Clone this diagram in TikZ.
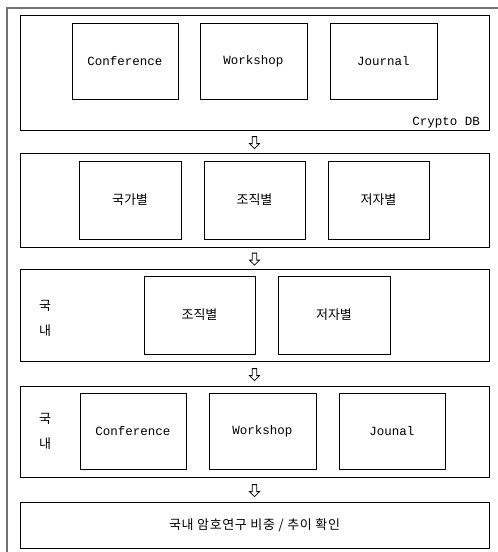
\documentclass[tikz,border=0pt]{standalone}
\usepackage{fontspec}
\setmonofont{Liberation Mono}
\newfontfamily\krfont{Noto Sans CJK KR}
\usetikzlibrary{shadows,calc,shapes.arrows}
\begin{document}
\begin{tikzpicture}[x=1pt,y=-1pt,
  box/.style={draw=black, line width=0.9pt, fill=white, inner sep=0pt,
    drop shadow={shadow xshift=1.2pt, shadow yshift=-1.2pt, fill=black!85, opacity=1}},
  panel/.style={box, minimum width=469pt},
  cell/.style={box},
  lat/.style={font=\ttfamily\fontsize{12.5}{14}\selectfont},
  kor/.style={font=\krfont\fontsize{13}{15}\selectfont},
  arr/.style={single arrow, draw=black, line width=0.8pt, fill=white,
    shape border rotate=270, minimum height=12pt, minimum width=10pt,
    single arrow head extend=2.5pt, single arrow head indent=0pt, inner sep=1.6pt},
  side/.style={font=\krfont\fontsize{13}{25}\selectfont, align=center, inner sep=0pt}
]
\useasboundingbox (0,0) rectangle (498,552);
\fill[white] (0,0) rectangle (498,552);
\draw[black!55, line width=1.6pt] (7,552) -- (7,8) -- (498,8);

% panels
\node[panel, minimum height=115pt] (b1) at (254.5,72.5) {};
\node[panel, minimum height=94pt]  (b2) at (254.5,200) {};
\node[panel, minimum height=92pt]  (b3) at (254.5,315) {};
\node[panel, minimum height=91pt]  (b4) at (254.5,431.5) {};
\node[panel, minimum height=46pt, kor] (b5) at (254.5,525) {\addfontfeature{LetterSpace=5}국내 암호연구 비중 / 추이 확인};

% row 1
\node[cell, lat, minimum width=106pt, minimum height=76pt] (c1) at (125,61) {Conference};
\node[cell, lat, minimum width=107pt, minimum height=76pt] (w1) at (253.5,61) {Workshop};
\node[cell, lat, minimum width=107pt, minimum height=76pt] (j1) at (383.5,61) {Journal};
\node[lat, anchor=east, inner sep=0pt] (cdb) at (480,123) {Crypto DB};

% row 2
\node[cell, kor, minimum width=102pt, minimum height=78pt] (n2) at (130,200) {국가별};
\node[cell, kor, minimum width=101pt, minimum height=78pt] (o2) at (254.5,200) {조직별};
\node[cell, kor, minimum width=101pt, minimum height=78pt] (a2) at (378.5,200) {저자별};

% row 3
\node[side] (d3) at (45,318) {국\\내};
\node[cell, kor, minimum width=111pt, minimum height=78pt] (o3) at (199.5,315) {조직별};
\node[cell, kor, minimum width=112pt, minimum height=78pt] (a3) at (334,315) {저자별};

% row 4
\node[side] (d4) at (45,431) {국\\내};
\node[cell, lat, minimum width=106pt, minimum height=76pt] (c4) at (133,431) {Conference};
\node[cell, lat, minimum width=107pt, minimum height=76pt] (w4) at (262.5,431) {Workshop};
\node[cell, lat, minimum width=106pt, minimum height=76pt] (j4) at (392,431) {Jounal};

% arrows
\node[arr] (a12) at ($(b1.south)!0.5!(b2.north)$) {};
\node[arr] (a23) at ($(b2.south)!0.5!(b3.north)$) {};
\node[arr] (a34) at ($(b3.south)!0.5!(b4.north)$) {};
\node[arr] (a45) at ($(b4.south)!0.5!(b5.north)$) {};
\end{tikzpicture}
\end{document}
